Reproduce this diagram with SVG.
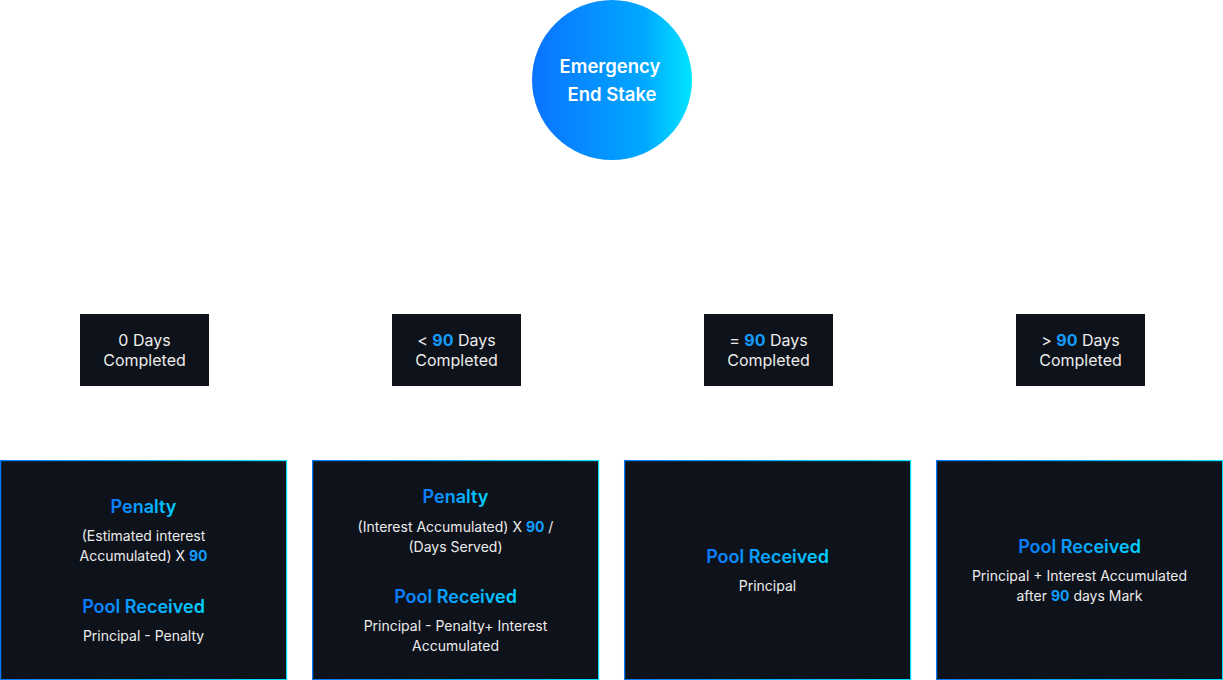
<svg xmlns="http://www.w3.org/2000/svg" width="1223" height="680" viewBox="0 0 1223 680">
<defs>
<linearGradient id="circGrad" x1="0" y1="0" x2="1" y2="0">
<stop offset="0" stop-color="#0a72ff"/>
<stop offset="0.7" stop-color="#00a8ff"/>
<stop offset="1" stop-color="#00e4ff"/>
</linearGradient>
<linearGradient id="headGrad" x1="0" y1="0" x2="1" y2="0">
<stop offset="0" stop-color="#0a78ff"/>
<stop offset="1" stop-color="#00d4ff"/>
</linearGradient>
<linearGradient id="borderGrad" x1="0" y1="0" x2="1" y2="0">
<stop offset="0" stop-color="#0a78ff"/>
<stop offset="1" stop-color="#00e4ff"/>
</linearGradient>
</defs>
<style>
.sbox{fill:#0e121a}
.bbox{fill:#0e121a;stroke:url(#borderGrad);stroke-width:1.2}
.t{font-family:Inter,"Noto Sans","Liberation Sans",sans-serif;text-anchor:middle;fill:#ececec}
.s{font-size:16px}
.b{font-size:14px}
.h{font-size:18px;font-weight:600;fill:url(#headGrad)}
.n{font-weight:700;fill:#129dff}
.c{font-size:18.5px;font-weight:600;fill:#ffffff}
</style>
<rect width="1223" height="680" fill="#ffffff"/>
<g id="connectors"></g>
<g id="root">
<circle cx="612" cy="80" r="80" fill="url(#circGrad)"/>
<text class="t c" x="610" y="73">Emergency</text>
<text class="t c" x="612" y="101">End Stake</text>
</g>
<g id="cond0">
<rect class="sbox" x="80" y="314" width="129" height="72"/>
<text class="t s" x="144.5" y="346">0 Days</text>
<text class="t s" x="144.5" y="366">Completed</text>
</g>
<g id="cond1">
<rect class="sbox" x="392" y="314" width="129" height="72"/>
<text class="t s" x="456.5" y="346">&lt; <tspan class="n">90</tspan> Days</text>
<text class="t s" x="456.5" y="366">Completed</text>
</g>
<g id="cond2">
<rect class="sbox" x="704" y="314" width="129" height="72"/>
<text class="t s" x="768.5" y="346">= <tspan class="n">90</tspan> Days</text>
<text class="t s" x="768.5" y="366">Completed</text>
</g>
<g id="cond3">
<rect class="sbox" x="1016" y="314" width="129" height="72"/>
<text class="t s" x="1080.5" y="346">&gt; <tspan class="n">90</tspan> Days</text>
<text class="t s" x="1080.5" y="366">Completed</text>
</g>
<g id="result0">
<rect class="bbox" x="0.6" y="460.6" width="286" height="219"/>
<text class="t h" x="143.5" y="513">Penalty</text>
<text class="t b" x="143.5" y="541">(Estimated interest</text>
<text class="t b" x="143.5" y="561">Accumulated) X <tspan class="n">90</tspan></text>
<text class="t h" x="143.5" y="613">Pool Received</text>
<text class="t b" x="143.5" y="641">Principal - Penalty</text>
</g>
<g id="result1">
<rect class="bbox" x="312.6" y="460.6" width="286" height="219"/>
<text class="t h" x="455.5" y="503">Penalty</text>
<text class="t b" x="455.5" y="532">(Interest Accumulated) X <tspan class="n">90</tspan> /</text>
<text class="t b" x="455.5" y="552">(Days Served)</text>
<text class="t h" x="455.5" y="603">Pool Received</text>
<text class="t b" x="455.5" y="631">Principal - Penalty+ Interest</text>
<text class="t b" x="455.5" y="651">Accumulated</text>
</g>
<g id="result2">
<rect class="bbox" x="624.6" y="460.6" width="286" height="219"/>
<text class="t h" x="767.5" y="563">Pool Received</text>
<text class="t b" x="767.5" y="591">Principal</text>
</g>
<g id="result3">
<rect class="bbox" x="936.6" y="460.6" width="286" height="219"/>
<text class="t h" x="1079.5" y="553">Pool Received</text>
<text class="t b" x="1079.5" y="581">Principal + Interest Accumulated</text>
<text class="t b" x="1079.5" y="601">after <tspan class="n">90</tspan> days Mark</text>
</g>
</svg>
